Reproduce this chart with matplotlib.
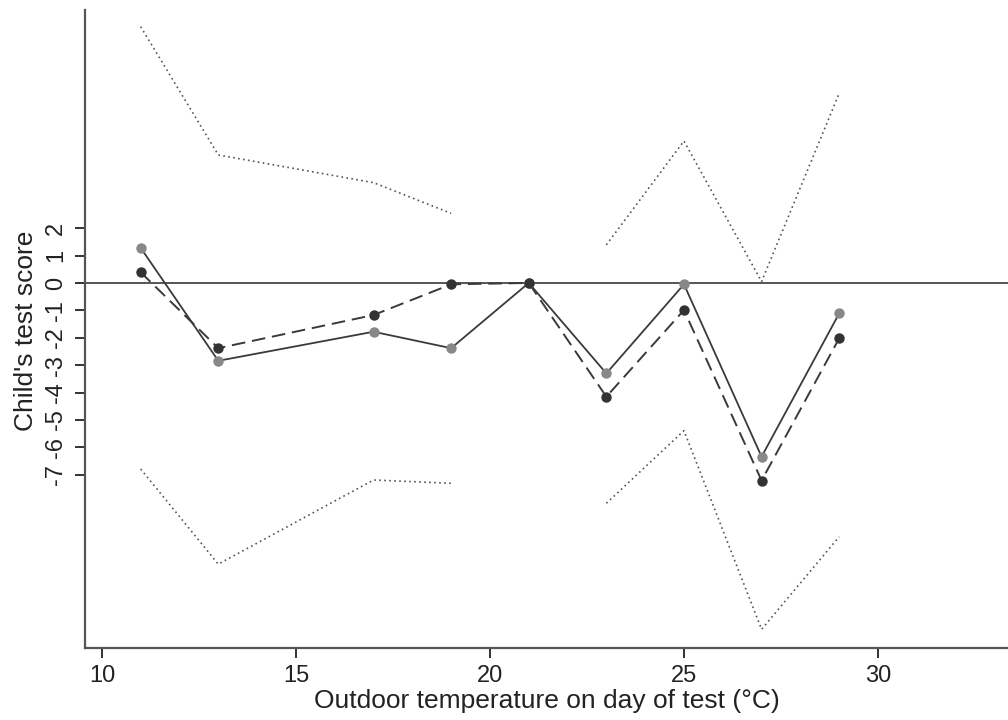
import matplotlib
matplotlib.use("Agg")
import matplotlib.pyplot as plt
import numpy as np

# Data
temps = [11, 13, 17, 19, 21, 23, 25, 27, 29]
score_a = [1.28, -2.84, -1.78, -2.38, 0.0, -3.30, -0.05, -6.34, -1.11]   # grey, solid
score_b = [0.39, -2.38, -1.17, -0.05, 0.0, -4.15, -0.99, -7.21, -2.02]   # dark, dashed

ci_temps_1 = [11, 13, 17, 19]
ci_upper_1 = [9.35, 4.67, 3.66, 2.54]
ci_lower_1 = [-6.79, -10.26, -7.19, -7.31]
ci_temps_2 = [23, 25, 27, 29]
ci_upper_2 = [1.39, 5.18, 0.05, 6.92]
ci_lower_2 = [-8.04, -5.39, -12.64, -9.26]

xticks = [10, 15, 20, 25, 30]
yticks = [-7, -6, -5, -4, -3, -2, -1, 0, 1, 2]

plt.rcParams['font.family'] = ['Liberation Sans', 'DejaVu Sans']

fig = plt.figure(figsize=(10.08, 7.2), dpi=100)
ax = fig.add_axes([85/1008, 72/720, 1 - 85/1008, (648 - 10)/720])

ax.axhline(0, color='#555555', lw=1.4, zorder=1)

dot_kw = dict(color='#555555', lw=1.2, linestyle=(0, (1, 2)), zorder=2)
ax.plot(ci_temps_1, ci_upper_1, **dot_kw)
ax.plot(ci_temps_1, ci_lower_1, **dot_kw)
ax.plot(ci_temps_2, ci_upper_2, **dot_kw)
ax.plot(ci_temps_2, ci_lower_2, **dot_kw)

ax.plot(temps, score_a, color='#3a3a3a', lw=1.3, zorder=3)
ax.plot(temps, score_a, 'o', color='#888888', ms=7.5, mec='none', zorder=4)
ax.plot(temps, score_b, color='#3a3a3a', lw=1.4, dashes=(7, 3.5), zorder=3)
ax.plot(temps, score_b, 'o', color='#333333', ms=7.5, mec='none', zorder=4)

ax.set_xlim(9.565, 33.35)
ax.set_ylim(-13.32, 9.96)

ax.set_xticks(xticks)
ax.set_yticks(yticks)
ax.set_yticklabels([str(v) for v in yticks], rotation=90, va='center')

for s in ['top', 'right']:
    ax.spines[s].set_visible(False)
for s in ['left', 'bottom']:
    ax.spines[s].set_color('#555555')
    ax.spines[s].set_linewidth(1.6)

ax.tick_params(axis='both', length=7, width=1.4, color='#333333', labelsize=17, labelcolor='#222222')
ax.tick_params(axis='y', pad=6)
ax.tick_params(axis='x', pad=5)

ax.set_xlabel("Outdoor temperature on day of test (°C)", fontsize=19, color='#222222', labelpad=2)
ax.set_ylabel("Child's test score", fontsize=19, color='#222222')
ax.yaxis.set_label_coords(-0.051, (648 - 331) / 638)

fig.savefig("out.png", dpi=100)
